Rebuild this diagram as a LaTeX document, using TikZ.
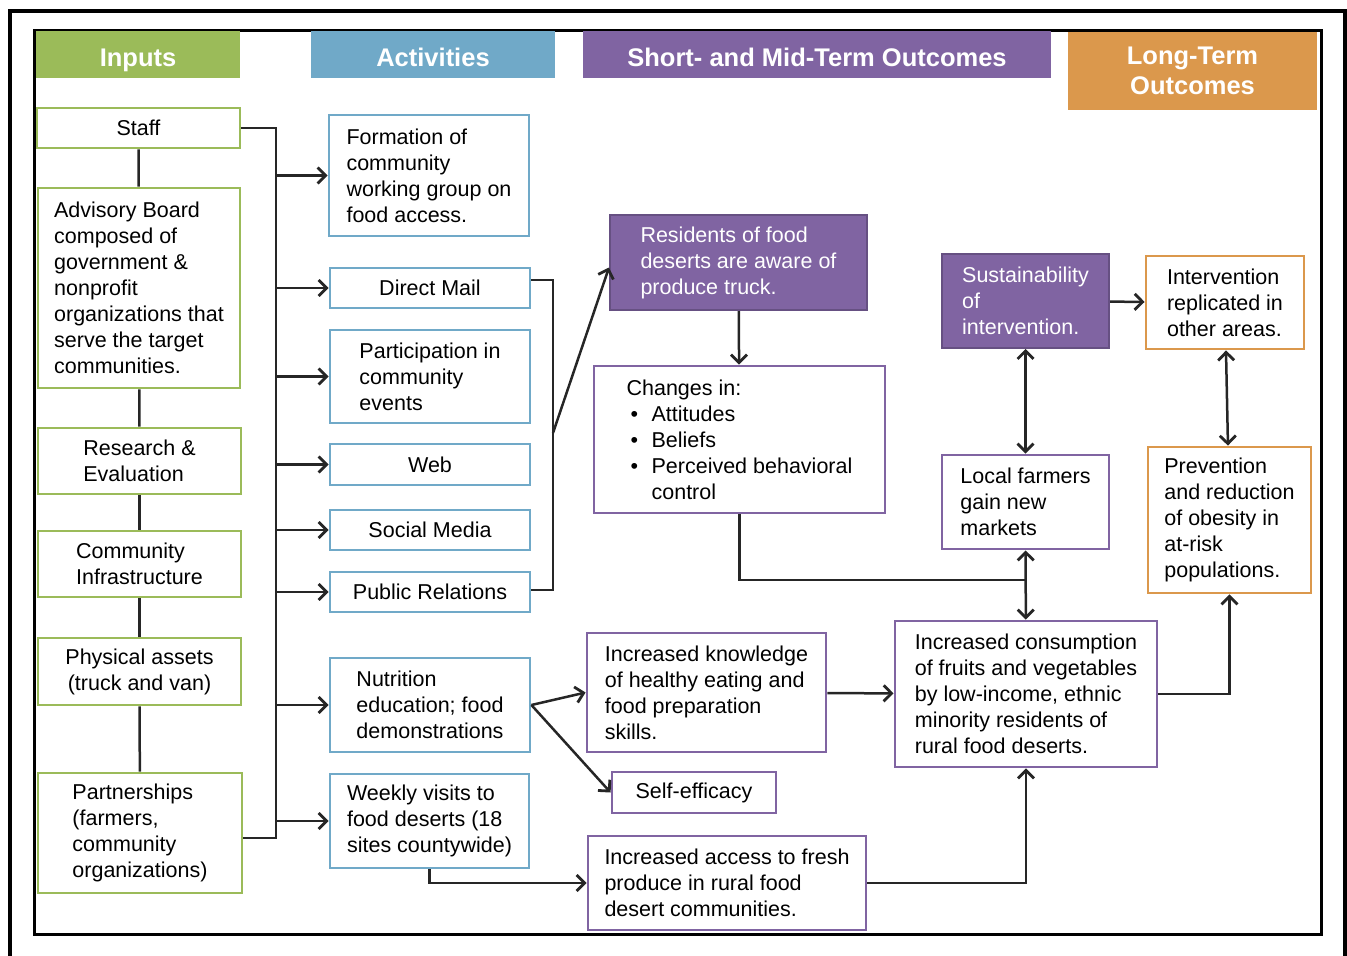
\documentclass[tikz,border=0pt]{standalone}
\usepackage{fontspec}
\setmainfont{Liberation Sans}
\usetikzlibrary{arrows.meta}

\begin{document}
\begin{tikzpicture}[x=1pt,y=-1pt,>={Straight Barb[length=8pt,width=16pt,line width=2.8pt]},
	every node/.style={font=\fontsize{21.5}{26}\selectfont,align=left,inner sep=0pt},
	head/.style={fill=#1,text=white,font=\bfseries\fontsize{25.5}{29.5}\selectfont,align=center},
	box/.style={draw=#1,line width=2.8pt,fill=white},
	dark/.style={draw=outpurple!80!black,line width=2pt,fill=outpurple,text=white},
	link/.style={line width=2.5pt,color=black!85}]

\definecolor{ingreen}{RGB}{155,187,89}
\definecolor{actblue}{RGB}{112,169,200}
\definecolor{outpurple}{RGB}{128,100,162}
\definecolor{ltorange}{RGB}{219,152,76}

\useasboundingbox (0,0) rectangle (1347,956);

% frames
\draw[line width=3.5pt] (10,960)--(10,11)--(1345,11)--(1345,960);
\draw[line width=3pt] (34,30) rectangle (1321,934);

% headers
\node[head=ingreen,minimum width=204,minimum height=47,text height=26pt,text depth=3pt] (hin) at (138,54.5) {Inputs};
\node[head=actblue,minimum width=244,minimum height=47,text height=26pt,text depth=3pt] (hact) at (433,54.5) {Activities};
\node[head=outpurple,minimum width=468,minimum height=47,text height=26pt,text depth=3pt] (hmid) at (817,54.5) {Short- and Mid-Term Outcomes};
\node[head=ltorange,minimum width=249,minimum height=78] (hlong) at (1192.5,71) {Long-Term\\Outcomes};

% inputs
\node[box=ingreen,minimum width=203,minimum height=40] (staff) at (138.5,128) {Staff};
\node[box=ingreen,minimum width=202,minimum height=200] (board) at (139,288)
	{Advisory Board\\composed of\\government \&\\nonprofit\\organizations that\\serve the target\\communities.};
\node[box=ingreen,minimum width=203,minimum height=66] (research) at (139.5,461) {Research \&\\Evaluation};
\node[box=ingreen,minimum width=203,minimum height=66] (infra) at (139.5,564) {Community\\Infrastructure};
\node[box=ingreen,minimum width=203,minimum height=67,align=center] (assets) at (139.5,671.5) {Physical assets\\(truck and van)};
\node[box=ingreen,minimum width=204,minimum height=120] (partner) at (140,833)
	{Partnerships\\(farmers,\\community\\organizations)};

\draw[link] (staff)--(board);
\draw[link] (board)--(research);
\draw[link] (research)--(infra);
\draw[link] (infra)--(assets);
\draw[link] (assets)--(partner);

% activities
\node[box=actblue,minimum width=200,minimum height=121] (form) at (429,175.5)
	{Formation of\\community\\working group on\\food access.};
\node[box=actblue,minimum width=200,minimum height=40] (mail) at (430,288) {Direct Mail};
\node[box=actblue,minimum width=200,minimum height=93] (events) at (430,376.5)
	{Participation in\\community\\events};
\node[box=actblue,minimum width=200,minimum height=41] (web) at (430,464.5) {Web};
\node[box=actblue,minimum width=200,minimum height=40] (social) at (430,530) {Social Media};
\node[box=actblue,minimum width=200,minimum height=40] (pr) at (430,592) {Public Relations};
\node[box=actblue,minimum width=200,minimum height=94] (nutri) at (430,705)
	{Nutrition\\education; food\\demonstrations};
\node[box=actblue,minimum width=199,minimum height=94] (visits) at (429.5,821)
	{Weekly visits to\\food deserts (18\\sites countywide)};

\coordinate (bus) at (276,0);
\draw[link] (staff.east)--(staff.east-|bus)|-([yshift=-5pt]partner.east);
\foreach \a in {form,mail,events,web,social,pr,nutri,visits}{
	\draw[link,->] (bus|-\a.west)--(\a.west);
}

% short- and mid-term outcomes
\node[dark,minimum width=257,minimum height=95] (aware) at (738.5,262.5)
	{Residents of food\\deserts are aware of\\produce truck.};
\node[box=outpurple,minimum width=291,minimum height=147] (changes) at (739.5,439.5)
	{Changes in:\\\hspace*{4pt}\makebox[21pt][l]{\textbullet}Attitudes\\\hspace*{4pt}\makebox[21pt][l]{\textbullet}Beliefs\\
	\hspace*{4pt}\makebox[21pt][l]{\textbullet}Perceived behavioral\\\hspace*{25pt}control};
\node[dark,minimum width=167,minimum height=94] (sustain) at (1025.5,301)
	{Sustainability\\of\\intervention.};
\node[box=outpurple,minimum width=167,minimum height=94] (farmers) at (1025.5,502)
	{Local farmers\\gain new\\markets};
\node[box=outpurple,minimum width=262,minimum height=146] (consume) at (1026,694)
	{Increased consumption\\of fruits and vegetables\\by low-income, ethnic\\minority residents of\\rural food deserts.};
\node[box=outpurple,minimum width=239,minimum height=119] (know) at (706.5,692.5)
	{Increased knowledge\\of healthy eating and\\food preparation\\skills.};
\node[box=outpurple,minimum width=164,minimum height=41] (efficacy) at (694,792.5) {Self-efficacy};
\node[box=outpurple,minimum width=278,minimum height=94] (access) at (727,883)
	{Increased access to fresh\\produce in rural food\\desert communities.};

% long-term outcomes
\node[box=ltorange,minimum width=158,minimum height=93] (replic) at (1225,302.5)
	{Intervention\\replicated in\\other areas.};
\node[box=ltorange,minimum width=163,minimum height=146] (obesity) at (1229.5,520)
	{Prevention\\and reduction\\of obesity in\\at-risk\\populations.};

% media to awareness
\coordinate (bus2) at (553,433);
\draw[link] ([yshift=8pt]mail.east)-|(bus2)|-([yshift=2pt]pr.east);
\draw[link,->] (bus2)--([yshift=-5pt]aware.west);

\draw[link,->] (aware)--(changes);
\coordinate (join) at (1025.5,580);
\draw[link] (changes.south)|-(join);
\draw[link,<->] (farmers)--(consume);
\draw[link,<->] (sustain)--(farmers);
\draw[link,->] (sustain)--(replic);
\draw[link,<->] (replic)--(obesity);
\draw[link,->] (consume.east)-|(obesity.south);

\draw[link,->] (nutri.east)--(know.west);
\draw[link,->] (nutri.east)--(efficacy.west);
\draw[link,->] (know)--(consume);
\draw[link,->] (visits.south)|-(access.west);
\draw[link,->] (access.east)-|(consume.south);

\end{tikzpicture}
\end{document}
